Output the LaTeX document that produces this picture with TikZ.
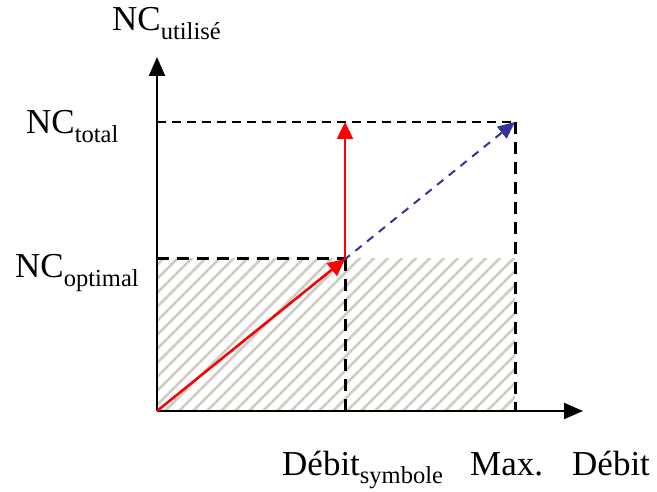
\documentclass[tikz,border=0pt]{standalone}
\usepackage{fontspec}
\setmainfont{Liberation Serif}
\usetikzlibrary{arrows.meta}
\definecolor{hatchgray}{RGB}{208,205,192}
\definecolor{debitblue}{RGB}{51,51,153}

\begin{document}
\begin{tikzpicture}[x=1pt,y=1pt,>={Triangle[length=19pt,width=16pt]},
  lbl/.style={inner sep=0pt,anchor=base west,font=\fontsize{35}{40}\selectfont},
  axe/.style={line width=2pt,->},
  guide/.style={line width=2pt,dash pattern=on 9pt off 6pt},
  guidethick/.style={line width=3pt,dash pattern=on 12pt off 8pt},
  rate/.style={line width=2.5pt,red,->,>={Triangle[length=17pt,width=16pt]}},
  full/.style={line width=2pt,debitblue,dash pattern=on 8pt off 7pt,->,>={Triangle[length=17pt,width=15pt]}}]
\useasboundingbox (0,0) rectangle (657,491);
% ---------- points of the graph ----------
\coordinate (O) at (157,80);
\coordinate (ytop) at (157,434);
\coordinate (xend) at (583,80);
\coordinate (ytotal) at (157,369);
\coordinate (yopt) at (157,232);
\coordinate (xsym) at (345,80);
\coordinate (xmax) at (515,80);
\coordinate (P) at (345,232);
\coordinate (Ptot) at (345,369);
\coordinate (M) at (515,369);
\coordinate (Mopt) at (515,232);
% ---------- hatched area under NC optimal ----------
\begin{scope}
  \clip (O) rectangle (Mopt);
  \foreach \i in {0,...,40}
    \draw[hatchgray,line width=2.5pt] (157-160+\i*14,80) -- ++(160,160);
\end{scope}
% ---------- guides ----------
\draw[guide] (ytotal) -- (M);
\draw[guidethick] (M) -- (xmax);
\draw[guidethick] (yopt) -- (P);
\draw[guidethick] (P) -- (xsym);
% ---------- axes ----------
\draw[axe] (O) -- (ytop);
\draw[axe] (O) -- (xend);
% ---------- rates ----------
\draw[full] (O) -- (M);
\draw[rate] (O) -- (P);
\draw[rate] (P) -- (Ptot);
% ---------- labels ----------
\node[lbl] (ncused) at (112,460) {NC\textsubscript{utilisé}};
\node[lbl] (nctotal) at (26,357) {NC\textsubscript{total}};
\node[lbl] (ncopt) at (15,213) {NC\textsubscript{optimal}};
\node[lbl] (debsym) at (282,16) {Débit\textsubscript{symbole}};
\node[lbl] (max) at (470,16) {Max.};
\node[lbl] (debit) at (572,16) {Débit};
\end{tikzpicture}
\end{document}
